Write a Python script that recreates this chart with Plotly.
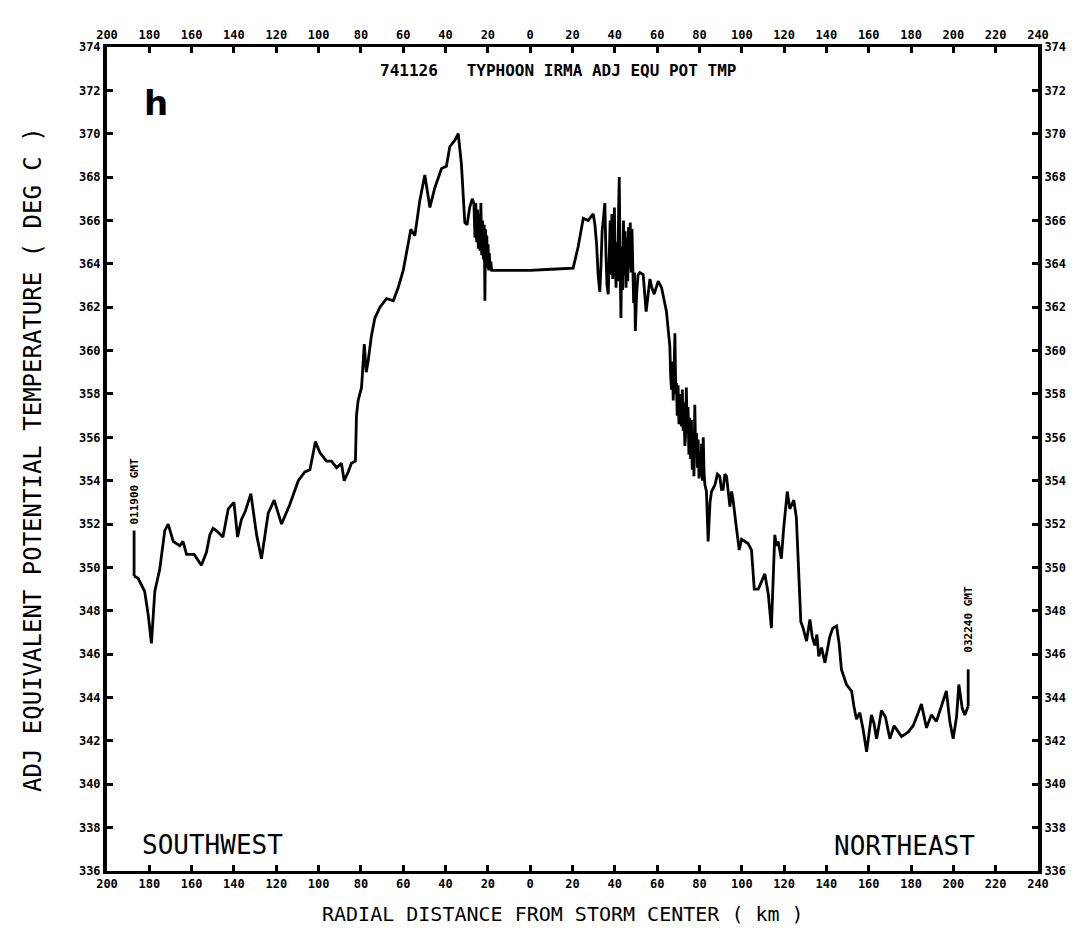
import plotly.graph_objects as go

# ---------------- data ----------------
distance_km = [
    -187.2, -185.3, -182.2, -180.5, -179.0, -177.4, -175.1, -172.7, -171.1, -168.7,
    -165.6, -164.1, -162.4, -158.8, -155.4, -153.0, -151.4, -149.9, -148.3, -145.2,
    -142.7, -140.0, -138.3, -136.5, -134.6, -132.0, -129.3, -127.0, -123.8, -121.0,
    -117.5, -113.6, -109.6, -106.5, -104.1, -101.5, -99.4, -96.3, -93.9, -91.5,
    -89.2, -87.9, -86.0, -84.5, -82.6, -82.1, -81.3, -80.5, -79.7, -78.4,
    -77.5, -76.6, -75.0, -73.4, -71.0, -67.9, -64.7, -62.4, -60.0, -57.7,
    -56.4, -54.5, -52.2, -49.8, -47.4, -45.1, -41.9, -39.6, -38.0, -35.6,
    -34.0, -32.5, -30.9, -29.8, -28.6, -27.4, -26.6, -26.1, -25.7, -25.3,
    -24.9, -24.5, -24.1, -23.7, -23.3, -22.9, -22.5, -22.1, -21.7, -21.4,
    -21.1, -20.8, -20.5, -20.2, -19.9, -19.6, -19.3, -19.0, -18.6, -18.2,
    -17.0, -10.0, 0.0, 10.0, 20.3, 22.7, 25.1, 27.4, 29.8, 30.6,
    31.4, 32.1, 32.9, 33.5, 34.0, 34.6, 35.3, 35.8, 36.3, 36.9,
    37.3, 37.8, 38.2, 38.6, 39.0, 39.4, 39.8, 40.2, 40.6, 41.0,
    41.4, 41.8, 42.1, 42.5, 42.9, 43.3, 43.7, 44.1, 44.5, 44.9,
    45.3, 45.7, 46.1, 46.5, 46.9, 47.3, 47.7, 48.1, 48.5, 48.9,
    49.3, 49.7, 50.3, 51.0, 51.8, 53.4, 54.8, 56.6, 57.5, 58.6,
    60.5, 62.1, 64.4, 65.2, 66.0, 66.4, 66.8, 67.2, 67.6, 68.0,
    68.4, 68.8, 69.1, 69.5, 69.9, 70.3, 70.7, 71.1, 71.5, 71.9,
    72.3, 72.7, 73.1, 73.4, 73.8, 74.2, 74.6, 75.0, 75.4, 75.8,
    76.2, 76.6, 77.0, 77.4, 77.8, 78.2, 78.6, 79.0, 79.4, 79.8,
    80.2, 80.6, 81.0, 81.4, 81.8, 82.2, 82.6, 83.3, 84.1, 85.0,
    85.7, 87.3, 88.5, 89.6, 90.4, 91.2, 92.0, 92.8, 93.6, 94.4,
    95.2, 95.9, 97.5, 98.8, 99.9, 101.5, 103.0, 104.6, 105.9, 107.8,
    109.5, 110.9, 112.5, 114.0, 115.6, 116.4, 117.2, 118.7, 119.8, 121.5,
    122.7, 124.6, 125.8, 126.7, 127.9, 129.0, 130.6, 132.2, 133.3, 134.5,
    135.5, 136.4, 137.7, 139.3, 140.5, 141.6, 143.0, 144.8, 146.0, 147.1,
    149.5, 151.9, 153.0, 154.2, 155.8, 157.4, 159.0, 160.2, 161.3, 162.5,
    163.7, 165.0, 166.0, 167.9, 170.0, 172.0, 174.0, 175.5, 178.6, 181.0,
    183.4, 184.9, 187.3, 189.6, 192.0, 194.4, 196.7, 198.3, 199.9, 201.5,
    202.6, 204.2, 205.4, 207.0,
]
theta_e = [
    349.6, 349.5, 348.9, 347.8, 346.5, 348.9, 349.9, 351.7, 352.0, 351.2,
    351.0, 351.2, 350.6, 350.6, 350.1, 350.7, 351.5, 351.8, 351.7, 351.4,
    352.7, 353.0, 351.4, 352.2, 352.6, 353.4, 351.5, 350.4, 352.5, 353.1,
    352.0, 352.9, 354.0, 354.4, 354.5, 355.8, 355.3, 354.9, 354.9, 354.6,
    354.8, 354.0, 354.4, 354.8, 354.9, 357.0, 357.7, 358.0, 358.3, 360.3,
    359.0, 359.5, 360.7, 361.5, 362.0, 362.4, 362.3, 362.9, 363.7, 364.9,
    365.6, 365.3, 366.9, 368.1, 366.6, 367.5, 368.4, 368.5, 369.4, 369.7,
    370.0, 368.6, 365.9, 365.8, 366.6, 367.0, 366.8, 365.2, 366.8, 365.0,
    366.5, 364.7, 366.3, 364.6, 366.8, 364.4, 366.0, 364.2, 365.8, 362.3,
    365.6, 363.9, 365.3, 363.8, 364.9, 363.7, 364.5, 363.8, 364.1, 363.7,
    363.7, 363.7, 363.7, 363.75, 363.8, 364.8, 366.1, 366.0, 366.3, 365.8,
    364.9, 363.5, 362.7, 364.0, 365.5, 366.1, 366.8, 364.5, 363.0, 362.6,
    364.8, 366.0, 363.5, 366.3, 363.3, 365.8, 366.6, 364.0, 362.9, 365.0,
    363.2, 366.5, 368.0, 364.0, 361.5, 364.8, 362.8, 366.0, 363.5, 365.5,
    362.9, 365.2, 363.2, 365.7, 363.8, 365.9, 363.6, 365.6, 363.3, 362.2,
    363.6, 360.9, 362.6, 363.5, 363.6, 363.5, 361.8, 363.3, 362.9, 362.6,
    363.2, 362.9, 361.8, 361.0, 360.2, 358.8, 358.2, 359.5, 357.7, 359.0,
    360.8, 358.0, 358.5, 357.0, 358.4, 356.6, 356.8, 358.0, 356.5, 358.2,
    356.3, 357.6, 355.6, 356.0, 358.3, 356.2, 357.4, 355.2, 356.9, 355.0,
    356.8, 354.5, 356.3, 354.2, 357.5, 355.3, 356.2, 354.6, 355.9, 354.1,
    355.3, 354.2, 355.7, 354.0, 356.0, 354.3, 353.8, 353.5, 351.2, 353.0,
    353.5, 353.8, 354.3, 354.2, 353.6, 353.6, 354.3, 354.2, 353.3, 352.8,
    353.5, 353.1, 351.8, 350.8, 351.3, 351.2, 351.1, 350.8, 349.0, 349.0,
    349.4, 349.7, 348.8, 347.2, 351.5, 351.0, 351.2, 350.4, 351.8, 353.5,
    352.7, 353.1, 352.3, 350.1, 347.5, 347.2, 346.6, 347.6, 346.8, 346.4,
    346.9, 345.9, 346.3, 345.6, 346.2, 346.8, 347.2, 347.3, 346.5, 345.3,
    344.6, 344.3, 343.6, 343.0, 343.3, 342.5, 341.5, 342.4, 343.2, 342.8,
    342.1, 342.8, 343.4, 343.1, 342.1, 342.7, 342.4, 342.2, 342.4, 342.7,
    343.3, 343.7, 342.6, 343.2, 342.9, 343.6, 344.3, 342.9, 342.1, 343.1,
    344.6, 343.5, 343.2, 343.6,
]

# time marks at the ends of the flight leg
start_mark_x = [-187.2, -187.2]
start_mark_y = [349.6, 351.7]
end_mark_x = [207.0, 207.0]
end_mark_y = [343.6, 345.3]
start_label = "011900 GMT"
end_label = "032240 GMT"

x_tickvals = list(range(-200, 241, 20))
x_ticktext = [str(abs(v)) for v in x_tickvals]
y_tickvals = list(range(336, 375, 2))
y_ticktext = [str(v) for v in y_tickvals]

title_text = "741126   TYPHOON IRMA ADJ EQU POT TMP"
x_title = "RADIAL DISTANCE FROM STORM CENTER ( km )"
y_title = "ADJ EQUIVALENT POTENTIAL TEMPERATURE ( DEG C )"

# ---------------- figure ----------------
mono = "DejaVu Sans Mono"
tickfont = dict(family=mono, size=12, color="black", weight="bold")

fig = go.Figure()
fig.add_trace(go.Scatter(x=distance_km, y=theta_e, mode="lines",
                         line=dict(color="black", width=2.8), showlegend=False,
                         hoverinfo="skip"))
fig.add_trace(go.Scatter(x=start_mark_x, y=start_mark_y, mode="lines",
                         line=dict(color="black", width=2.8), showlegend=False))
fig.add_trace(go.Scatter(x=end_mark_x, y=end_mark_y, mode="lines",
                         line=dict(color="black", width=2.8), showlegend=False))
# invisible trace to carry the mirrored top/right axes
fig.add_trace(go.Scatter(x=[-200, 240], y=[336, 374], mode="markers",
                         marker=dict(opacity=0), xaxis="x2", yaxis="y2",
                         showlegend=False, hoverinfo="skip"))

axis_common = dict(showgrid=False, zeroline=False, showline=True,
                   linecolor="black", ticks="inside", ticklen=6,
                   tickwidth=3, tickcolor="black", tickfont=tickfont)

fig.update_layout(
    width=1078, height=931,
    margin=dict(l=99, r=48, t=39, b=68),
    paper_bgcolor="white", plot_bgcolor="white",
    xaxis=dict(range=[-200, 240], tickvals=x_tickvals, ticktext=x_ticktext,
               linewidth=2.5, **axis_common),
    xaxis2=dict(range=[-200, 240], tickvals=x_tickvals, ticktext=x_ticktext,
                overlaying="x", side="top", linewidth=2.5, **axis_common),
    yaxis=dict(range=[336, 374], tickvals=y_tickvals, ticktext=y_ticktext,
               linewidth=4, **axis_common),
    yaxis2=dict(range=[336, 374], tickvals=y_tickvals, ticktext=y_ticktext,
                overlaying="y", side="right", linewidth=4, **axis_common),
    showlegend=False,
)

annotations = [
    dict(text=title_text, xref="paper", yref="paper", x=0.484, y=0.971,
         xanchor="center", yanchor="middle", showarrow=False,
         font=dict(family=mono, size=16, color="black", weight="bold")),
    dict(text="h", xref="paper", yref="paper", x=0.053, y=0.932,
         xanchor="center", yanchor="middle", showarrow=False,
         font=dict(family="DejaVu Sans", size=34, color="black", weight="bold")),
    dict(text="SOUTHWEST", xref="paper", yref="paper", x=0.113, y=0.031,
         xanchor="center", yanchor="middle", showarrow=False,
         font=dict(family=mono, size=26, color="black")),
    dict(text="NORTHEAST", xref="paper", yref="paper", x=0.857, y=0.030,
         xanchor="center", yanchor="middle", showarrow=False,
         font=dict(family=mono, size=26, color="black")),
    dict(text=x_title, xref="paper", yref="paper", x=0.49, y=-0.052,
         xanchor="center", yanchor="middle", showarrow=False,
         font=dict(family=mono, size=20, color="black")),
    dict(text=y_title, xref="paper", yref="paper", x=-0.0795, y=0.5,
         xanchor="center", yanchor="middle", textangle=-90, showarrow=False,
         font=dict(family=mono, size=24, color="black")),
    dict(text=start_label, x=-187.2, y=353.5, xref="x", yref="y", textangle=-90,
         xanchor="center", yanchor="middle", showarrow=False,
         font=dict(family=mono, size=11, color="black", weight="bold")),
    dict(text=end_label, x=207.0, y=347.6, xref="x", yref="y", textangle=-90,
         xanchor="center", yanchor="middle", showarrow=False,
         font=dict(family=mono, size=11, color="black", weight="bold")),
]
fig.update_layout(annotations=annotations)

fig.write_html("out.html")
